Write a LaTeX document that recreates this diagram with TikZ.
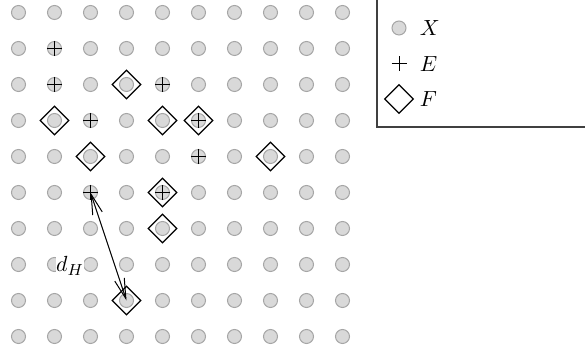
\documentclass[tikz,border=0pt]{standalone}
\usepackage{tikz}
\usetikzlibrary{shapes.geometric, arrows.meta, positioning}
\tikzset{
  site/.style={
    draw=black!35, circle, minimum size=7pt,
    fill=gray!30, inner sep=0pt,
    line width=0.5pt
  },
  hidden/.style={draw=none, fill=none},
  fmark/.style={
    draw, diamond, minimum size=14.5pt,
    inner sep=0pt, line width=0.6pt
  },
  emark/.style={line width=0.7pt},
  dist/.style={{Straight Barb[length=10pt,width=5pt]}-{Straight Barb[length=10pt,width=5pt]}, line width=0.5pt},
  legendbox/.style={draw=black!75, line width=0.6pt},
  legendtext/.style={inner sep=1pt, font=\fontsize{11}{13}\selectfont}
}

\begin{document}
\begin{tikzpicture}[x=0.5pt, y=-0.5pt]
  \useasboundingbox (0,0) rectangle (585,351);

  % grid of points X
  \foreach \i in {0,...,9}
    \foreach \j in {0,...,9}
      \node[site] (p-\i-\j) at (18.5+36*\i, 12.5+36*\j) {};

  % points of E
  \foreach \i/\j in {1/1, 1/2, 4/2, 2/3, 5/3, 5/4, 2/5, 4/5}
    \draw[emark] (p-\i-\j.north) -- (p-\i-\j.south)
                 (p-\i-\j.west) -- (p-\i-\j.east);

  % points of F
  \foreach \i/\j in {3/2, 1/3, 4/3, 5/3, 2/4, 7/4, 4/5, 4/6, 3/8}
    \node[fmark] (f-\i-\j) at (p-\i-\j) {};

  % Hausdorff distance
  \draw[dist] (p-2-5.center) -- (p-3-8.center);
  \node[legendtext, fill=white, inner sep=0pt] (dh) at (70,266) {$d_H$};

  % legend
  \draw[legendbox] (377,-5) rectangle (595,127);
  \node[site] (lx) at (399,28) {};
  \node[site, hidden] (le) at (399,64) {};
  \node[site, hidden] (lf) at (399,99) {};
  \draw[line width=0.5pt] (le.north) -- (le.south) (le.west) -- (le.east);
  \node[fmark] (lfd) at (lf) {};
  \node[legendtext, right=5.5pt of lx] (tx) {$X$};
  \node[legendtext, right=5.5pt of le] (te) {$E$};
  \node[legendtext, right=5.5pt of lf] (tf) {$F$};
\end{tikzpicture}
\end{document}
